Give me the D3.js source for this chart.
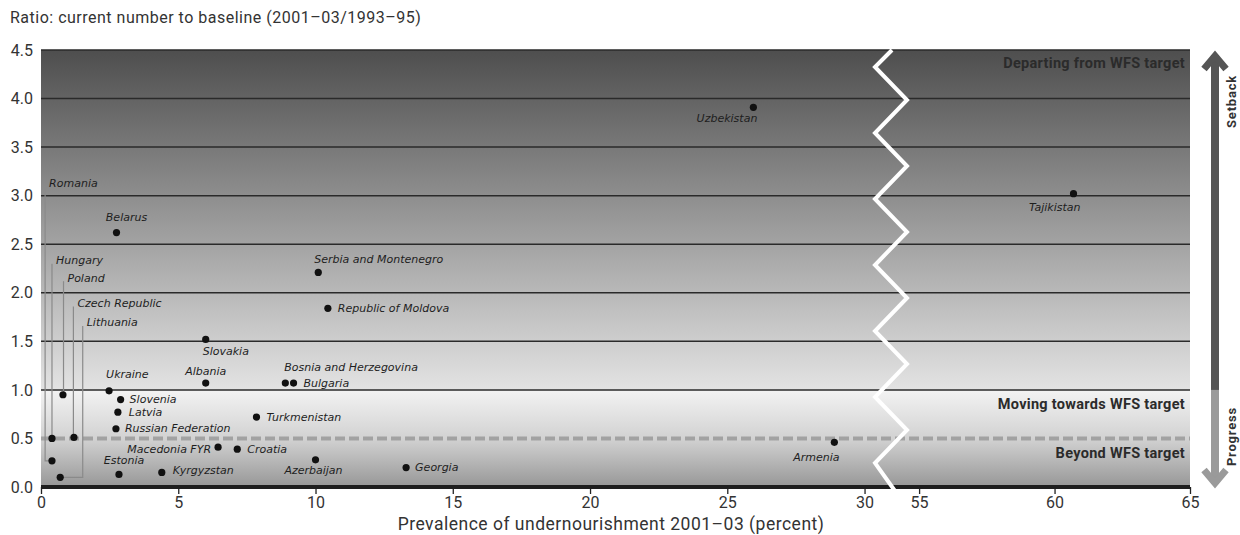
<!DOCTYPE html>
<html>
<head>
<meta charset="UTF-8">
<script src="https://d3js.org/d3.v7.min.js"></script>
<style>
    body { margin: 0; background: #fff; }
    svg { display: block; font-family: Roboto, "DejaVu Sans", sans-serif; }
    .country { font-family: "DejaVu Sans", sans-serif; font-style: italic; font-size: 11px; fill: #1e1e1e; }
    .tick text { font-family: Roboto, sans-serif; font-size: 16px; fill: #333; }
    .zone { font-size: 14.5px; font-weight: bold; fill: #2b2b2b; letter-spacing: 0.3px; }
</style>
</head>
<body>
<div id="chart"></div>
<script>
    // data
    const countries = ["Romania", "Hungary", "Poland", "Czech Republic", "Lithuania",
        "Belarus", "Serbia and Montenegro", "Republic of Moldova", "Slovakia", "Uzbekistan",
        "Tajikistan", "Ukraine", "Albania", "Bosnia and Herzegovina", "Bulgaria",
        "Slovenia", "Latvia", "Russian Federation", "Turkmenistan", "Macedonia FYR",
        "Croatia", "Estonia", "Kyrgyzstan", "Azerbaijan", "Georgia", "Armenia"]
    const prevalence = [0.4, 0.4, 0.8, 1.2, 0.7,
        2.75, 10.1, 10.45, 6.0, 25.95,
        60.7, 2.48, 6.0, 8.9, 9.2,
        2.9, 2.8, 2.73, 7.85, 6.45,
        7.15, 2.84, 4.4, 10.0, 13.3, 28.9]
    const ratio = [0.27, 0.50, 0.95, 0.51, 0.10,
        2.62, 2.21, 1.84, 1.52, 3.91,
        3.02, 0.99, 1.07, 1.07, 1.07,
        0.90, 0.77, 0.60, 0.72, 0.41,
        0.39, 0.13, 0.15, 0.28, 0.20, 0.46]

    const yTicks = [0, 0.5, 1, 1.5, 2, 2.5, 3, 3.5, 4, 4.5]
    const xTicksLeft = [0, 5, 10, 15, 20, 25, 30]
    const xTicksRight = [55, 60, 65]
    const zones = ["Departing from WFS target", "Moving towards WFS target", "Beyond WFS target"]

    // label placement: [dx, dy, anchor]
    const labelAt = {
        "Belarus": [10, -15, "middle"], "Serbia and Montenegro": [-4, -13, "start"],
        "Republic of Moldova": [10, 0, "start"], "Slovakia": [-3, 12, "start"],
        "Uzbekistan": [4, 11, "end"], "Tajikistan": [7, 14, "end"],
        "Ukraine": [-3, -16, "start"], "Albania": [0, -12, "middle"],
        "Bosnia and Herzegovina": [-1, -16, "start"], "Bulgaria": [10, 0, "start"],
        "Slovenia": [9, 0, "start"], "Latvia": [11, 0, "start"],
        "Russian Federation": [9, 0, "start"], "Turkmenistan": [10, 0, "start"],
        "Macedonia FYR": [-7, 2, "end"], "Croatia": [10, 0, "start"],
        "Estonia": [5, -14, "middle"], "Kyrgyzstan": [11, -2, "start"],
        "Azerbaijan": [-2, 11, "middle"], "Georgia": [9, 0, "start"],
        "Armenia": [-18, 15, "middle"]
    }
    // leader-line labels: [leader x (percent), label level (ratio)]
    const leaders = {
        "Romania": [0.15, 3.13], "Hungary": [0.4, 2.33], "Poland": [0.82, 2.15],
        "Czech Republic": [1.18, 1.89], "Lithuania": [1.52, 1.69]
    }

    const width = 1240, height = 535

    const x1 = d3.scaleLinear().domain([0, 31]).range([41, 892])
    const x2 = d3.scaleLinear().domain([54, 65]).range([892, 1190])
    const xPos = v => v < 40 ? x1(v) : x2(v)
    const y = d3.scaleLinear().domain([0, 4.5]).range([487, 50])
    const left = x1.range()[0], right = x2.range()[1]

    const svg = d3.select("#chart").append("svg")
        .attr("width", width)
        .attr("height", height)

    const defs = svg.append("defs")
    const gTop = defs.append("linearGradient").attr("id", "gTop")
        .attr("gradientUnits", "userSpaceOnUse")
        .attr("x1", 0).attr("x2", 0).attr("y1", y(4.5)).attr("y2", y(1))
    gTop.append("stop").attr("offset", 0).attr("stop-color", "#4e4e4e")
    gTop.append("stop").attr("offset", 1).attr("stop-color", "#e3e3e3")
    const gBot = defs.append("linearGradient").attr("id", "gBot")
        .attr("gradientUnits", "userSpaceOnUse")
        .attr("x1", 0).attr("x2", 0).attr("y1", y(1)).attr("y2", y(0))
    gBot.append("stop").attr("offset", 0).attr("stop-color", "#f3f3f3")
    gBot.append("stop").attr("offset", 0.5).attr("stop-color", "#d2d2d2")
    gBot.append("stop").attr("offset", 1).attr("stop-color", "#979797")

    svg.append("rect")
        .attr("x", left).attr("y", y(4.5))
        .attr("width", right - left).attr("height", y(1) - y(4.5))
        .attr("fill", "url(#gTop)")
    svg.append("rect")
        .attr("x", left).attr("y", y(1))
        .attr("width", right - left).attr("height", y(0) - y(1))
        .attr("fill", "url(#gBot)")

    // title
    svg.append("text")
        .attr("x", 10).attr("y", 17)
        .attr("dominant-baseline", "central")
        .style("font-size", "16px")
        .style("letter-spacing", "0.5px")
        .style("fill", "#333")
        .text("Ratio: current number to baseline (2001\u201303/1993\u201395)")

    // grid lines
    svg.selectAll(".grid")
        .data(yTicks.filter(d => d > 0.5))
        .join("line")
        .attr("class", "grid")
        .attr("x1", left).attr("x2", right)
        .attr("y1", d => y(d)).attr("y2", d => y(d))
        .attr("stroke", "#2a2a2a")
        .attr("stroke-width", 1.5)

    svg.append("line")
        .attr("x1", left).attr("x2", right)
        .attr("y1", y(0.5)).attr("y2", y(0.5))
        .attr("stroke", "#a2a2a2")
        .attr("stroke-width", 4)
        .attr("stroke-dasharray", "10,4")

    // y axis
    const yAxis = svg.append("g")
        .attr("transform", `translate(${left},0)`)
        .call(d3.axisLeft(y).tickValues(yTicks).tickFormat(d3.format(".1f")).tickSize(0).tickPadding(8))
    yAxis.select(".domain").remove()

    // x axes
    svg.append("g")
        .attr("transform", `translate(0,${y(0)})`)
        .call(d3.axisBottom(x1).tickValues(xTicksLeft).tickSize(7).tickPadding(3))
    svg.append("g")
        .attr("transform", `translate(0,${y(0)})`)
        .call(d3.axisBottom(x2).tickValues(xTicksRight).tickSize(7).tickPadding(3))
    svg.selectAll(".domain").remove()
    svg.selectAll(".tick line").attr("stroke", "#222").attr("stroke-width", 1.3)

    svg.append("line")
        .attr("x1", left).attr("x2", right)
        .attr("y1", y(0)).attr("y2", y(0))
        .attr("stroke", "#1e1e1e")
        .attr("stroke-width", 4)

    svg.append("text")
        .attr("x", 611).attr("y", 524)
        .attr("text-anchor", "middle")
        .attr("dominant-baseline", "central")
        .style("font-size", "17.5px")
        .style("letter-spacing", "0.5px")
        .style("fill", "#333")
        .text("Prevalence of undernourishment 2001\u201303 (percent)")

    // zone labels
    const zoneY = [4.36, 0.85, 0.35]
    svg.selectAll(".zone")
        .data(zones)
        .join("text")
        .attr("class", "zone")
        .attr("x", right - 5)
        .attr("y", (d, i) => y(zoneY[i]))
        .attr("text-anchor", "end")
        .attr("dominant-baseline", "central")
        .text(d => d)

    // axis break zigzag
    const bx = x1.range()[1]
    const zig = [[bx, y(4.5)]]
    let zy = y(4.5) + 17, onLeft = true
    while (zy < y(0)) {
        zig.push([onLeft ? bx - 17 : bx + 15, zy])
        zy += 33
        onLeft = !onLeft
    }
    zig.push([bx + 3, y(0) + 4])
    svg.append("path")
        .attr("d", d3.line()(zig))
        .attr("fill", "none")
        .attr("stroke", "#fff")
        .attr("stroke-width", 4)
        .attr("stroke-linejoin", "miter")

    // leader lines
    Object.entries(leaders).forEach(([name, [lx, ly]]) => {
        const i = countries.indexOf(name)
        const px = xPos(prevalence[i]), py = y(ratio[i])
        const pts = [[x1(lx), y(ly) + 3], [x1(lx), py]]
        if (Math.abs(x1(lx) - px) > 1) pts.push([px, py])
        svg.append("path")
            .attr("d", d3.line()(pts))
            .attr("fill", "none")
            .attr("stroke", "#8a8a8a")
            .attr("stroke-width", 1.2)
        svg.append("text")
            .attr("class", "country")
            .attr("x", x1(lx) + 4)
            .attr("y", y(ly))
            .attr("dominant-baseline", "central")
            .text(name)
    })

    // points
    svg.selectAll(".pt")
        .data(countries)
        .join("circle")
        .attr("class", "pt")
        .attr("cx", (d, i) => xPos(prevalence[i]))
        .attr("cy", (d, i) => y(ratio[i]))
        .attr("r", 3.6)
        .attr("fill", "#111")

    svg.selectAll(".lbl")
        .data(countries.filter(d => labelAt[d]))
        .join("text")
        .attr("class", "country lbl")
        .attr("x", d => xPos(prevalence[countries.indexOf(d)]) + labelAt[d][0])
        .attr("y", d => y(ratio[countries.indexOf(d)]) + labelAt[d][1])
        .attr("text-anchor", d => labelAt[d][2])
        .attr("dominant-baseline", "central")
        .text(d => d)

    // setback / progress arrow
    const ax = 1215
    svg.append("line")
        .attr("x1", ax).attr("x2", ax)
        .attr("y1", y(4.5) + 5).attr("y2", y(1))
        .attr("stroke", "#555").attr("stroke-width", 8)
    svg.append("line")
        .attr("x1", ax).attr("x2", ax)
        .attr("y1", y(1)).attr("y2", y(0) - 3)
        .attr("stroke", "#9a9a9a").attr("stroke-width", 8)
    svg.append("path")
        .attr("d", d3.line()([[ax - 11, y(4.5) + 19], [ax, y(4.5) + 6], [ax + 11, y(4.5) + 19]]))
        .attr("fill", "none").attr("stroke", "#555").attr("stroke-width", 7)
    svg.append("path")
        .attr("d", d3.line()([[ax - 11, y(0) - 17], [ax, y(0) - 4], [ax + 11, y(0) - 17]]))
        .attr("fill", "none").attr("stroke", "#9a9a9a").attr("stroke-width", 7)

    svg.append("text")
        .attr("transform", `translate(1231,${y(3.97)}) rotate(-90)`)
        .attr("text-anchor", "middle")
        .attr("dominant-baseline", "central")
        .style("font-size", "13px").style("font-weight", "bold").style("fill", "#333")
        .style("letter-spacing", "0.8px")
        .text("Setback")
    svg.append("text")
        .attr("transform", `translate(1231,${y(0.52)}) rotate(-90)`)
        .attr("text-anchor", "middle")
        .attr("dominant-baseline", "central")
        .style("font-size", "13px").style("font-weight", "bold").style("fill", "#333")
        .style("letter-spacing", "0.8px")
        .text("Progress")
</script>
</body>
</html>
